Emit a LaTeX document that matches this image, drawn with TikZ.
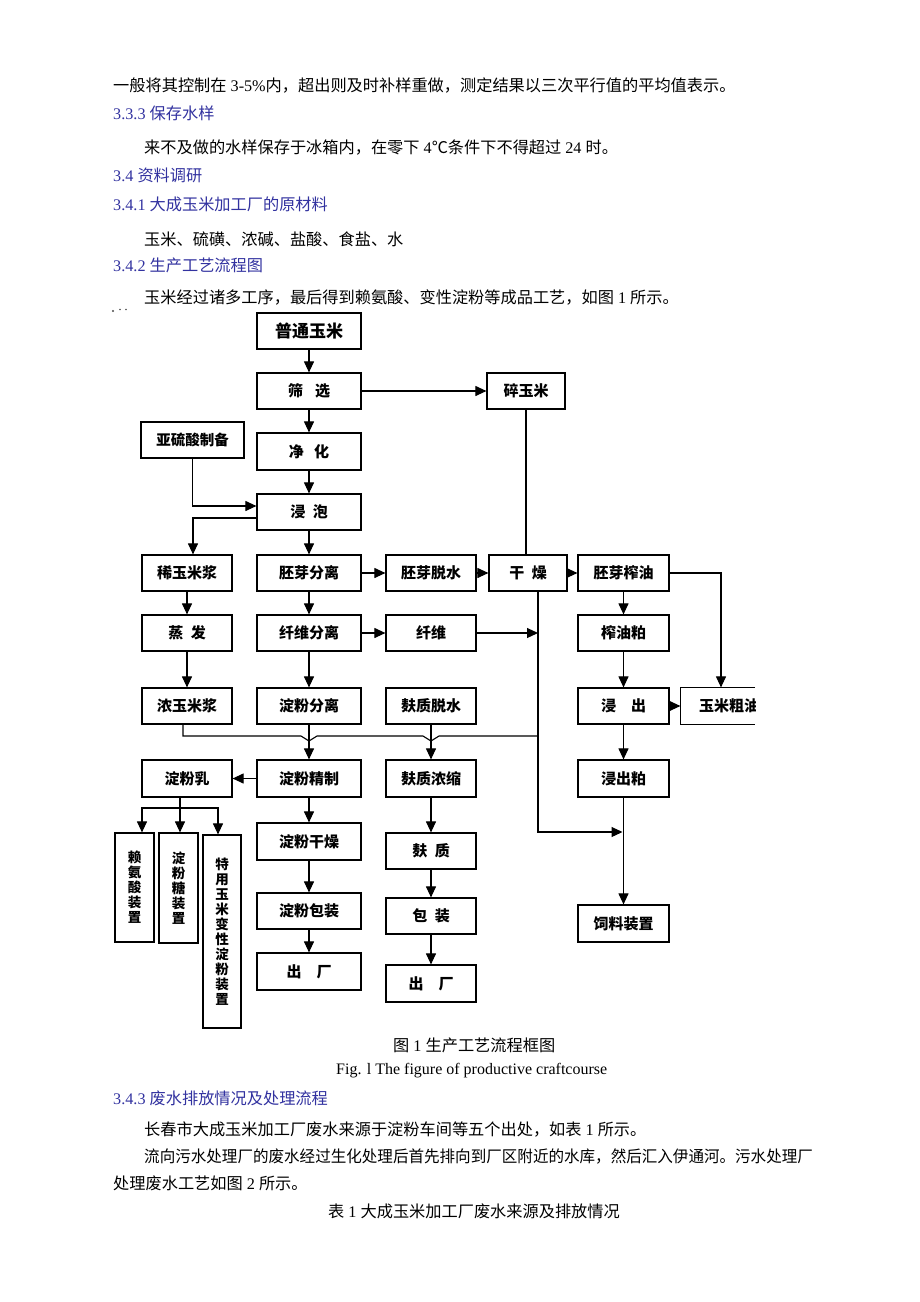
\documentclass[tikz,border=0pt]{standalone}
\usepackage{fontspec}
\setmainfont{Liberation Serif}
\newfontfamily\cjk{Noto Sans CJK SC}
\usetikzlibrary{arrows.meta,calc}
\definecolor{hblue}{RGB}{50,50,160}
\newcommand\C[1]{{\cjk #1}}
\begin{document}
\begin{tikzpicture}[x=1pt,y=-1pt,
  line/.style={line width=1.1pt},
  arr/.style={line width=1.1pt,-{Triangle[length=11pt,width=10pt]}},
  box/.style={draw,line width=1.2pt,minimum width=104pt,minimum height=36pt,inner sep=0pt,
    font=\cjk\bfseries\fontsize{15}{15}\selectfont},
  nbox/.style={box,minimum width=90pt},
  rbox/.style={box,minimum width=91pt},
  vbox/.style={draw,line width=1.2pt,inner sep=0pt,align=center,
    font=\cjk\bfseries\fontsize{13.5}{15}\selectfont},
  txt/.style={anchor=base west,inner sep=0pt,font=\fontsize{16.2}{19}\selectfont},
  head/.style={txt,text=hblue}]
\useasboundingbox (0,0) rectangle (920,1302);
\fill[white] (0,0) rectangle (920,1302);

% ---------- text above ----------
\node[txt] (l1) at (113,91) {\C{一般将其控制在}~3-5\%\C{内，超出则及时补样重做，测定结果以三次平行值的平均值表示。}};
\node[head] (h1) at (113,119) {3.3.3 \C{保存水样}};
\node[txt] (l2) at (144,153) {\C{来不及做的水样保存于冰箱内，在零下}~4\C{℃条件下不得超过}~24~\C{时。}};
\node[head] (h2) at (113,181) {3.4 \C{资料调研}};
\node[head] (h3) at (113,210) {3.4.1 \C{大成玉米加工厂的原材料}};
\node[txt] (l3) at (144,245) {\C{玉米、硫磺、浓碱、盐酸、食盐、水}};
\node[head] (h4) at (113,271) {3.4.2 \C{生产工艺流程图}};
\node[txt] (l4) at (144,303) {\C{玉米经过诸多工序，最后得到赖氨酸、变性淀粉等成品工艺，如图}~1~\C{所示。}};
\fill[black!70] (113,311) circle (1.1pt) (120,309.5) circle (0.9pt) (126,309.5) circle (0.9pt);

% ---------- boxes ----------
\node[box,font=\cjk\bfseries\fontsize{17}{17}\selectfont] (pt) at (309,331) {普通玉米};
\node[box] (sx) at (309,391) {筛\hspace{0.8em}选};
\node[box,minimum width=78pt] (sym) at (526,391) {碎玉米};
\node[box,minimum width=103pt,font=\cjk\bfseries\fontsize{14.5}{15}\selectfont] (ysl) at (192.5,440) {亚硫酸制备};
\node[box,minimum height=37pt] (jh) at (309,451.5) {净\hspace{0.7em}化};
\node[box] (jp) at (309,512) {浸\hspace{0.5em}泡};

\node[nbox] (xym) at (187,573) {稀玉米浆};
\node[box] (pyfl) at (309,573) {胚芽分离};
\node[nbox] (pyts) at (431,573) {胚芽脱水};
\node[box,minimum width=78pt] (gz) at (528,573) {干\hspace{0.5em}燥};
\node[rbox] (pyzy) at (623.5,573) {胚芽榨油};

\node[nbox] (zf) at (187,633) {蒸\hspace{0.5em}发};
\node[box] (xwfl) at (309,633) {纤维分离};
\node[nbox] (xw) at (431,633) {纤维};
\node[rbox] (zyp) at (623.5,633) {榨油粕};

\node[nbox] (nym) at (187,706) {浓玉米浆};
\node[box] (dffl) at (309,706) {淀粉分离};
\node[nbox] (fzts) at (431,706) {麸质脱水};
\node[rbox] (jc) at (623.5,706) {浸\hspace{1em}出};
\begin{scope}
\clip (0,0) rectangle (755,1302);
\node[box,draw=none,minimum width=96pt] (ymcy) at (729,706) {玉米粗油};
\end{scope}
\coordinate (clipR) at (755,0);
\draw[line,line width=1.2pt] (clipR |- ymcy.north) -- (ymcy.north west) -- (ymcy.south west) -- (clipR |- ymcy.south);

\node[nbox,minimum height=37pt] (dfr) at (187,778.5) {淀粉乳};
\node[box,minimum height=37pt] (dfjz) at (309,778.5) {淀粉精制};
\node[nbox,minimum height=37pt] (fznx) at (431,778.5) {麸质浓缩};
\node[rbox,minimum height=37pt] (jcp) at (623.5,778.5) {浸出粕};

\node[vbox,minimum width=39pt,minimum height=109pt] (lasz) at (134.5,887.5) {赖\\氨\\酸\\装\\置};
\node[vbox,minimum width=39pt,minimum height=110pt] (dftz) at (178.5,888) {淀\\粉\\糖\\装\\置};
\node[vbox,minimum width=38pt,minimum height=193pt] (tyym) at (222,931.5) {特\\用\\玉\\米\\变\\性\\淀\\粉\\装\\置};

\node[box,minimum height=37pt] (dfgz) at (309,841.5) {淀粉干燥};
\node[box] (dfbz) at (309,911) {淀粉包装};
\node[box,minimum height=37pt] (cc1) at (309,971.5) {出\hspace{1em}厂};

\node[nbox] (fz) at (431,851) {麸\hspace{0.5em}质};
\node[nbox] (bz) at (431,916) {包\hspace{0.5em}装};
\node[nbox,minimum height=37pt] (cc2) at (431,983.5) {出\hspace{1em}厂};

\node[rbox,minimum height=37pt] (slzz) at (623.5,923.5) {饲料装置};

% ---------- connectors ----------
\draw[arr] (pt) -- (sx);
\draw[arr] (sx) -- (jh);
\draw[arr] (jh) -- (jp);
\draw[arr] (jp) -- (pyfl);
\draw[arr] (sx.east) -- (sym.west);
\draw[line] (sym.south) -- (sym.south |- gz.north);
\draw[arr] (ysl.south) |- ([yshift=6pt]jp.west);
\draw[arr] ([yshift=-6pt]jp.west) -| ([xshift=6pt]xym.north);

\draw[arr] (pyfl) -- (pyts);
\draw[arr] (pyts) -- (gz);
\draw[arr] (gz) -- (pyzy);
\draw[arr] (pyzy.east) -| ([xshift=-8pt]ymcy.north);

\draw[arr] (xym) -- (zf);
\draw[arr] (zf) -- (nym);
\draw[arr] (pyfl) -- (xwfl);
\draw[arr] (xwfl) -- (dffl);
\draw[arr] (xwfl) -- (xw);
\draw[arr] (pyzy) -- (zyp);
\draw[arr] (zyp) -- (jc);
\draw[arr] (jc) -- (jcp);
\draw[arr] (jc.east) -- (ymcy.west);

\coordinate (gzb) at ([xshift=10pt]gz.south);
\coordinate (feed) at (622.5,832);
\draw[arr] (gzb) |- (feed);
\draw[arr] (xw.east) -- (xw.east -| gzb);
\draw[arr] (jcp) -- (slzz);

% merge line below row 3
\coordinate (mA) at (309,741);
\coordinate (mB) at (431,741);
\coordinate (mEnd) at (gzb |- 0,736);
\draw[line] ([xshift=-4pt]nym.south) |- (301,736) -- (mA) -- (317,736) -- (423,736) -- (mB) -- (439,736) -- (mEnd);
\draw[arr] (dffl) -- (dfjz);
\draw[arr] (fzts) -- (fznx);
\draw[arr] (dfjz.west) -- (dfr.east);

\coordinate (split) at (180,808);
\draw[line] ([xshift=-7pt]dfr.south) -- (split);
\draw[arr] (split) -| ([xshift=7.5pt]lasz.north);
\draw[arr] (split) -| ([xshift=1.5pt]dftz.north);
\draw[arr] (split) -| ([xshift=-4pt]tyym.north);

\draw[arr] (dfjz) -- (dfgz);
\draw[arr] (dfgz) -- (dfbz);
\draw[arr] (dfbz) -- (cc1);
\draw[arr] (fznx) -- (fz);
\draw[arr] (fz) -- (bz);
\draw[arr] (bz) -- (cc2);

% ---------- text below ----------
\node[txt] (cap1) at (393,1051) {\C{图}~1~\C{生产工艺流程框图}};
\node[txt,font=\fontsize{16}{19}\selectfont] (cap2) at (336,1074) {Fig. l The figure of productive craftcourse};
\node[head] (h5) at (113,1104) {3.4.3 \C{废水排放情况及处理流程}};
\node[txt] (l5) at (144,1135) {\C{长春市大成玉米加工厂废水来源于淀粉车间等五个出处，如表}~1~\C{所示。}};
\node[txt] (l6) at (144,1162) {\scalebox{0.96}[1]{\C{流向污水处理厂的废水经过生化处理后首先排向到厂区附近的水库，然后汇入伊通河。污水处理厂}}};
\node[txt] (l7) at (113,1189) {\C{处理废水工艺如图}~2~\C{所示。}};
\node[txt] (l8) at (328,1217) {\C{表}~1~\C{大成玉米加工厂废水来源及排放情况}};
\end{tikzpicture}
\end{document}
